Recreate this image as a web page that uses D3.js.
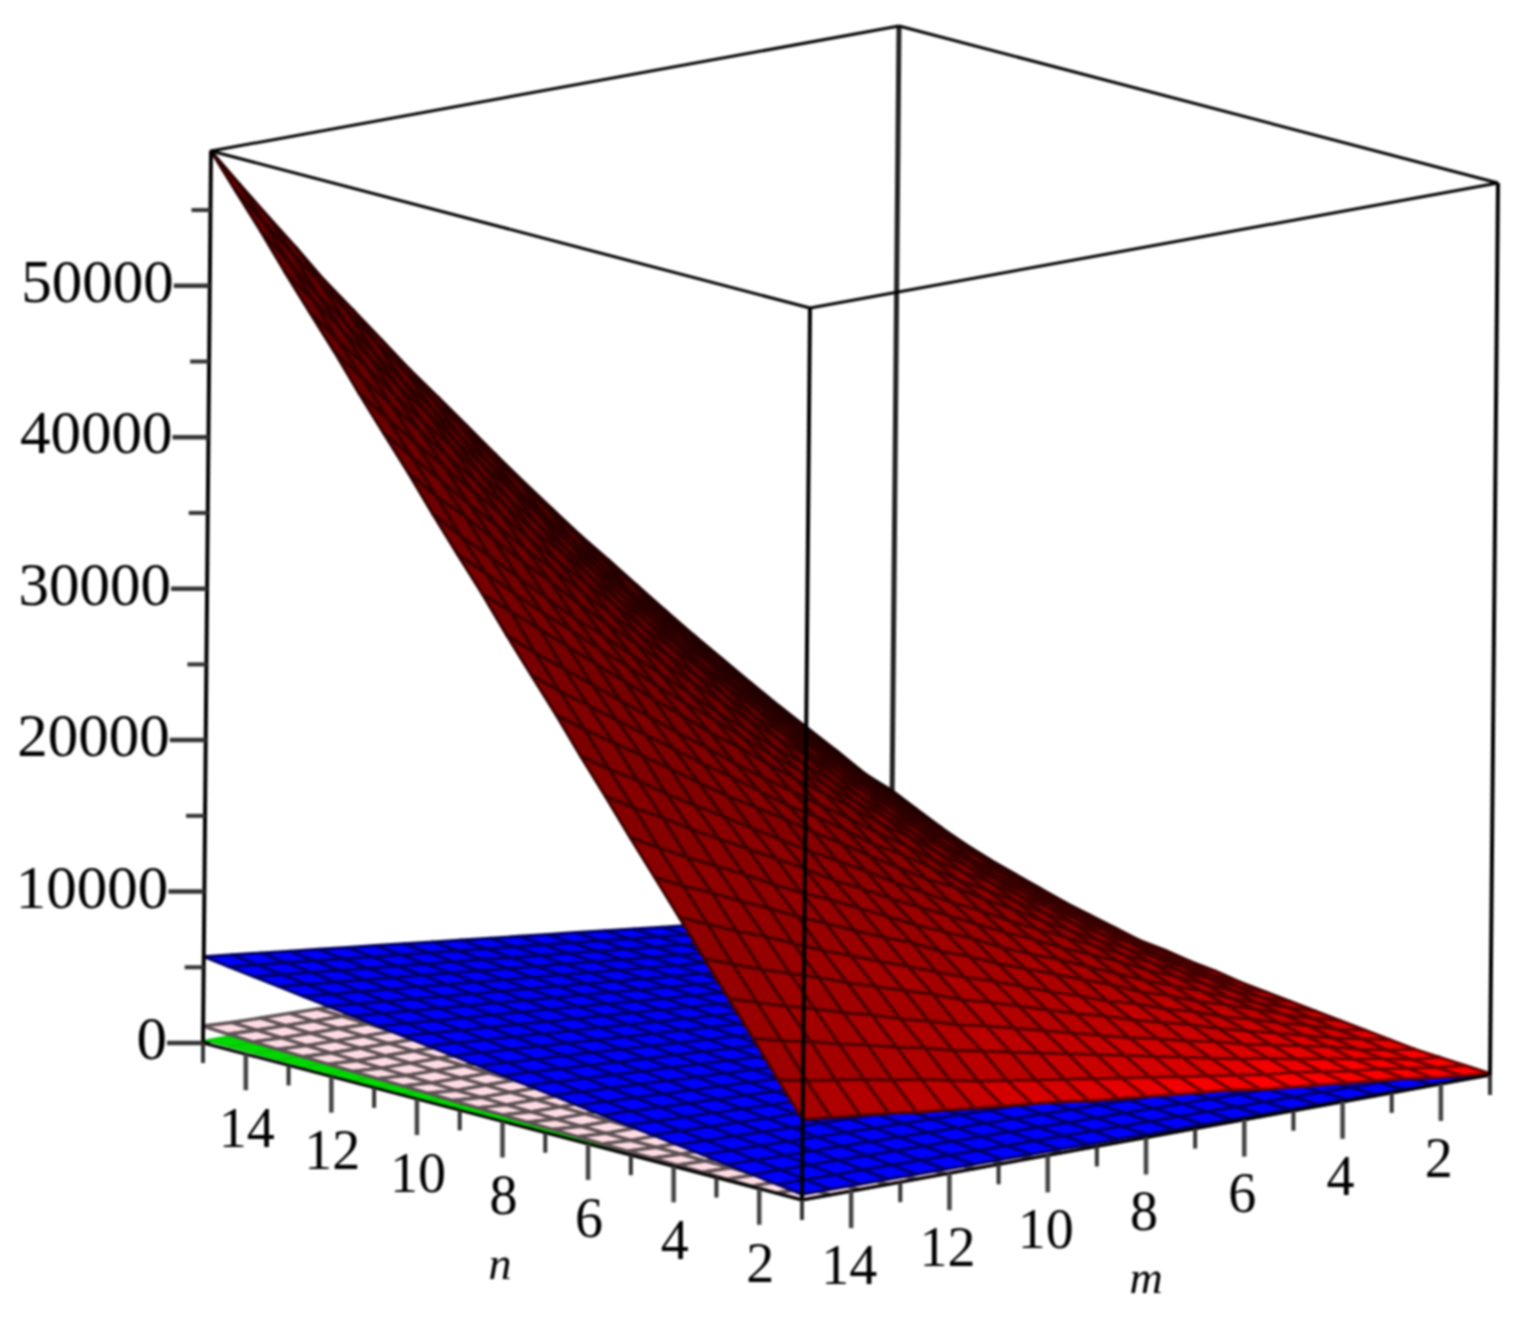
<!DOCTYPE html>
<html><head><meta charset="utf-8">
<style>html,body{margin:0;padding:0;background:#fff}svg{display:block;filter:blur(1.1px)}text{font-family:"Liberation Serif",serif;fill:#000}</style>
<script src="https://d3js.org/d3.v7.min.js"></script>
</head><body><svg id="c" width="1532" height="1323"></svg>
<script>
const gridM=[1,1.58,2.17,2.75,3.33,3.92,4.5,5.08,5.67,6.25,6.83,7.42,8,8.58,9.17,9.75,10.33,10.92,11.5,12.08,12.67,13.25,13.83,14.42,15];
const gridN=[1,1.58,2.17,2.75,3.33,3.92,4.5,5.08,5.67,6.25,6.83,7.42,8,8.58,9.17,9.75,10.33,10.92,11.5,12.08,12.67,13.25,13.83,14.42,15];
// rows by n, columns by m. Estimates.
const redHundreds=[
[1,3,5,8,10,12,14,16,18,21,23,25,27,29,31,34,36,38,40,42,44,47,49,51,53],
[2,4,7,10,12,15,18,20,23,26,29,32,35,38,41,44,47,50,54,58,61,65,68,71,75],
[3,5,9,12,16,19,23,26,30,34,38,42,46,50,54,58,62,66,71,75,80,84,89,93,98],
[4,7,11,16,20,24,28,33,37,42,46,51,56,61,66,71,75,81,86,92,97,103,108,114,120],
[6,10,14,19,24,29,34,40,45,50,56,61,67,73,79,84,91,97,103,109,116,122,128,135,142],
[8,12,18,23,29,34,41,46,53,58,65,71,78,85,91,98,105,112,119,126,134,142,149,157,165],
[10,15,21,28,34,40,47,53,61,68,75,82,89,97,104,113,120,128,136,144,153,161,170,178,187],
[12,18,24,31,39,46,53,61,69,77,84,92,101,109,117,126,135,144,152,161,171,180,189,199,209],
[14,20,28,36,44,52,61,69,77,86,94,103,112,121,130,140,149,160,170,180,190,200,211,221,232],
[16,23,32,40,49,58,67,76,85,94,104,113,123,133,144,154,164,175,186,197,208,219,231,242,254],
[18,26,35,45,54,63,73,83,94,104,115,124,135,146,158,169,181,192,203,215,228,240,252,264,277],
[21,29,39,50,59,70,80,91,102,112,124,136,146,159,171,182,195,208,220,233,246,259,272,285,299],
[23,33,43,54,65,76,87,99,110,121,134,146,159,171,184,196,209,223,236,250,264,278,292,306,321],
[26,36,47,59,70,82,94,106,118,132,144,158,171,184,198,212,225,240,254,269,284,299,314,329,344],
[28,39,51,63,76,88,101,114,127,141,154,168,182,196,211,226,240,255,271,286,302,317,333,350,366],
[32,43,56,69,82,94,108,122,136,150,164,179,193,208,223,239,255,271,287,302,319,336,353,370,388],
[36,48,62,75,89,103,116,131,146,160,176,191,206,222,238,254,271,287,304,322,339,357,375,392,411],
[40,53,67,81,95,110,125,140,155,170,187,202,219,235,252,269,286,304,322,339,358,376,395,414,433],
[45,58,72,88,103,118,133,149,165,181,198,215,232,249,266,284,302,320,338,358,377,396,415,435,455],
[50,64,79,95,110,125,142,158,175,192,209,226,244,262,280,299,318,336,356,375,395,416,436,457,478],
[55,70,85,101,118,134,151,167,185,202,221,238,257,275,295,313,333,353,373,394,414,435,457,478,500],
[61,76,92,109,125,142,159,178,196,214,232,251,270,289,309,330,350,370,390,412,433,455,477,500,522],
[68,83,99,117,134,151,169,187,206,225,244,263,283,303,323,344,365,386,408,429,451,474,496,521,545],
[76,91,109,126,145,162,181,200,219,238,259,278,299,319,341,361,383,405,427,449,473,496,519,543,567],
[84,99,118,136,154,173,192,211,231,251,271,291,312,333,355,377,399,421,444,467,490,515,539,564,589]];
const blueTens=[
[3,4,5,7,8,10,11,13,14,16,17,19,20,22,23,25,26,28,29,31,32,34,35,37,38],
[4,6,9,11,13,16,18,20,23,25,27,30,32,34,37,39,41,44,46,48,51,53,55,58,60],
[5,9,12,15,18,22,25,28,31,34,38,41,44,47,50,54,57,60,63,66,70,73,76,79,82],
[7,11,15,19,23,27,31,35,39,44,48,52,56,60,64,68,72,76,80,84,88,92,96,100,104],
[8,13,18,23,28,33,38,43,48,53,58,63,67,72,77,82,87,92,97,102,107,112,117,122,127],
[10,16,21,27,33,39,45,50,56,62,68,73,79,85,91,97,102,108,114,120,125,131,137,143,149],
[11,18,25,31,38,45,51,58,65,71,78,84,91,98,104,111,118,124,131,138,144,151,157,164,171],
[13,20,28,35,43,50,58,65,73,80,88,95,103,110,118,125,133,140,148,155,163,170,178,185,193],
[14,23,31,39,48,56,65,73,81,90,98,106,115,123,131,140,148,157,165,173,182,190,198,207,215],
[16,25,34,43,53,62,71,80,90,99,108,117,126,136,145,154,163,173,182,191,200,209,219,228,237],
[17,27,37,48,58,68,78,88,98,108,118,128,138,148,158,168,179,189,199,209,219,229,239,249,260],
[19,30,41,52,63,74,84,95,106,117,128,139,150,161,172,183,194,205,216,227,238,249,260,271,282],
[20,32,44,56,67,79,91,103,115,126,138,150,162,174,185,197,209,221,233,244,256,268,280,292,304],
[22,34,47,60,72,85,98,110,123,136,148,161,174,186,199,212,224,237,250,262,275,288,300,313,326],
[23,37,50,64,77,91,104,118,131,145,158,172,185,199,213,226,240,253,267,280,294,307,321,334,348],
[25,39,53,68,82,97,111,125,140,154,169,183,197,212,226,241,255,269,284,298,312,327,341,356,370],
[26,41,57,72,87,102,118,133,148,163,179,194,209,224,240,255,270,285,301,316,331,346,362,377,392],
[28,44,60,76,92,108,124,140,157,173,189,205,221,237,253,269,286,302,318,334,350,366,382,398,414],
[29,46,63,80,97,114,131,148,165,182,199,216,233,250,267,284,301,318,335,352,369,386,403,420,437],
[31,48,66,84,102,120,138,155,173,191,209,227,245,262,280,298,316,334,352,369,387,405,423,441,459],
[32,51,69,88,107,126,144,163,182,200,219,238,256,275,294,312,331,350,369,387,406,425,443,462,481],
[34,53,73,92,112,131,151,170,190,210,229,249,268,288,307,327,346,366,386,405,425,444,464,483,503],
[35,55,76,96,117,137,157,178,198,219,239,260,280,300,321,341,362,382,402,423,443,464,484,504,525],
[37,58,79,100,122,143,164,185,207,228,249,271,292,313,334,356,377,398,420,441,462,483,505,526,547],
[38,60,82,104,127,149,171,193,215,237,259,282,304,326,348,370,392,415,437,459,481,503,525,548,570]];
const pinkTens=[
[0,0,0,0,0,0,0,0,0,0,0,0,0,0,0,0,0,0,0,0,0,0,0,0,1],
[0,0,0,0,0,0,0,0,0,0,1,1,1,1,1,1,1,1,1,1,1,1,1,1,3],
[0,0,0,0,0,1,1,1,1,1,1,1,1,1,1,1,2,2,2,2,2,2,2,2,5],
[0,0,1,1,1,1,1,1,1,1,2,2,2,2,2,2,2,3,3,3,3,3,3,3,8],
[0,1,1,1,1,1,2,2,2,2,2,3,3,3,3,3,4,4,4,4,4,5,5,5,11],
[0,1,1,1,2,2,2,2,3,3,3,4,4,4,4,5,5,5,5,6,6,6,7,7,14],
[1,1,1,2,2,2,3,3,4,4,4,5,5,5,6,6,6,7,7,8,8,8,9,9,17],
[1,1,2,2,3,3,4,4,5,5,5,6,6,7,7,8,8,9,9,10,10,11,11,12,21],
[1,2,2,3,3,4,4,5,6,6,7,7,8,9,9,10,10,11,11,12,13,13,14,14,25],
[1,2,3,3,4,5,5,6,7,8,8,9,10,10,11,12,12,13,14,15,15,16,17,17,29],
[1,2,3,4,5,6,7,7,8,9,10,11,12,12,13,14,15,16,17,17,18,19,20,21,34],
[2,3,4,5,6,7,8,9,10,11,12,13,14,15,16,17,18,19,20,21,22,23,24,25,38],
[2,3,4,5,7,8,9,10,11,12,14,15,16,17,18,19,20,22,23,24,25,26,27,29,43],
[2,4,5,6,8,9,10,12,13,14,16,17,18,20,21,22,24,25,26,28,29,30,32,33,47],
[3,4,6,7,9,10,12,13,15,16,18,19,21,22,24,25,27,28,30,31,33,35,36,38,52],
[3,5,6,8,10,12,13,15,17,18,20,22,24,25,27,29,30,32,34,36,37,39,41,42,57],
[3,5,7,9,11,13,15,17,19,21,23,25,26,28,30,32,34,36,38,40,42,44,46,48,62],
[4,6,8,10,12,15,17,19,21,23,25,27,30,32,34,36,38,40,43,45,47,49,51,53,67],
[4,6,9,11,14,16,18,21,23,26,28,30,33,35,38,40,42,45,47,50,52,54,57,59,72],
[5,7,10,12,15,18,20,23,26,28,31,34,36,39,41,44,47,49,52,55,57,60,63,65,77],
[5,8,11,14,17,20,22,25,28,31,34,37,40,43,46,49,51,54,57,60,63,66,69,72,82],
[5,9,12,15,18,21,24,28,31,34,37,40,44,47,50,53,56,59,63,66,69,72,75,78,88],
[6,9,13,16,20,23,27,30,34,37,41,44,47,51,54,58,61,65,68,72,75,79,82,86,94],
[6,10,14,18,21,25,29,33,37,40,44,48,52,55,59,63,67,70,74,78,82,85,89,93,101],
[7,11,15,19,23,27,31,35,40,44,48,52,56,60,64,68,72,76,80,84,88,92,96,101,112]];
// Only the strip of the green surface that shows at the front edge.
const greenM=[14.42,15];
const greenNext=[0,0,1,1,1,1,2,2,3,3,4,5,5,6,7,8,9,10,11,12,13,15,16,17,19];
const greenFront=[0,0,0,1,1,1,1,2,2,3,3,4,5,6,6,7,8,9,10,11,12,14,15,16,18];
const zMajor=[0,10000,20000,30000,40000,50000];
const zMinor=[5000,15000,25000,35000,45000,55000];
const nMajor=[2,4,6,8,10,12,14];
const nMinor=[1,3,5,7,9,11,13,15];
const mMajor=[2,4,6,8,10,12,14];
const mMinor=[1,3,5,7,9,11,13,15];

const svg=d3.select("#c");
const ox=802,oy=1200;
const mx=d3.scaleLinear([15,1],[0,688]), my=d3.scaleLinear([15,1],[0,-125]);
const nx=d3.scaleLinear([1,15],[0,-599]), ny=d3.scaleLinear([1,15],[0,-157]);
const zx=d3.scaleLinear([0,58900],[0,8]), zy=d3.scaleLinear([0,58900],[0,-892]);
const P=(m,n,z)=>[ox+mx(m)+nx(n)+zx(z), oy+my(m)+ny(n)+zy(z)];
const line=d3.line();
const seg=(g,a,b,w,c)=>g.append("path").attr("d",line([a,b])).attr("stroke",c||"#000").attr("stroke-width",w).attr("fill","none");

const back=svg.append("g");
seg(back,P(15,15,0),P(1,15,0),2.5);
seg(back,P(1,15,0),P(1,1,0),2.5);
seg(back,P(1,15,0),P(1,15,58900),5,"#222");

function surface(ms,ns,table,unit,fill,stroke,sw){
  const cells=[];
  for(let j=ns.length-2;j>=0;j--)for(let k=0;k<ms.length-1;k++){
    const v=(a,b)=>table[a][b]*unit;
    cells.push({j,k,pts:[P(ms[k],ns[j],v(j,k)),P(ms[k+1],ns[j],v(j,k+1)),P(ms[k+1],ns[j+1],v(j+1,k+1)),P(ms[k],ns[j+1],v(j+1,k))],
      gm:(v(j,k+1)+v(j+1,k+1)-v(j,k)-v(j+1,k))/2/(ms[k+1]-ms[k])*14/58900,
      gn:(v(j+1,k)+v(j+1,k+1)-v(j,k)-v(j,k+1))/2/(ns[j+1]-ns[j])*14/58900});
  }
  svg.append("g").selectAll("path").data(cells).join("path")
    .attr("d",d=>line(d.pts)+"Z")
    .attr("fill",d=>fill(d)).attr("stroke",d=>stroke(d)).attr("stroke-width",sw).attr("stroke-linejoin","round");
}
const greenTable=d3.zip(greenNext,greenFront);
surface(greenM,gridN,greenTable,10,()=>"#00d800",()=>"#00a000",0.6);
surface(gridM,gridN,pinkTens,10,()=>"#ffdce4",()=>"#5e5255",3.4);
surface(gridM,gridN,blueTens,10,()=>"#0000ff",()=>"#000068",3);
const redI=d=>{
  const tm=(gridM[d.k]-1)/14, tn=(gridN[d.j]-1)/14;
  const I=340/(1+d.gn+1.5*d.gm)*(1-.65*(1-tm)*tn);
  return Math.min(255,I);
};
surface(gridM,gridN,redHundreds,100,d=>d3.rgb(redI(d),0,0).formatRgb(),d=>d3.rgb(redI(d)*.45,0,0).formatRgb(),3);

const front=svg.append("g");
// box
seg(front,P(15,15,58900),P(15,1,58900),3);
seg(front,P(15,1,58900),P(1,1,58900),3);
seg(front,P(1,1,58900),P(1,15,58900),3);
seg(front,P(1,15,58900),P(15,15,58900),3);
seg(front,P(15,15,0),P(15,15,58900),4);
seg(front,P(15,1,0),P(15,1,58900),4);
seg(front,P(1,1,0),P(1,1,58900),4);
seg(front,P(15,15,0),P(15,1,0),3);
seg(front,P(15,1,0),P(1,1,0),3);

// z axis
zMajor.forEach(z=>{const p=P(15,15,z);seg(front,[p[0]-36,p[1]],p,4.5,"#333");
  front.append("text").attr("x",p[0]-36).attr("y",p[1]+2).attr("text-anchor","end").attr("dominant-baseline","middle").attr("font-size",61).text(z);});
zMinor.forEach(z=>{const p=P(15,15,z);seg(front,[p[0]-19,p[1]],p,4,"#333");});
// n axis
nMajor.forEach(n=>{const p=P(15,n,0);seg(front,p,[p[0],p[1]+36],4.5,"#444");
  front.append("text").attr("x",p[0]+1).attr("y",p[1]+80).attr("text-anchor","middle").attr("dominant-baseline","middle").attr("font-size",56).text(n);});
nMinor.forEach(n=>{const p=P(15,n,0);seg(front,p,[p[0],p[1]+20],4,"#333");});
// m axis
mMajor.forEach(m=>{const p=P(m,1,0);seg(front,p,[p[0],p[1]+37],4.5,"#444");
  front.append("text").attr("x",p[0]-2).attr("y",p[1]+80).attr("text-anchor","middle").attr("dominant-baseline","middle").attr("font-size",56).text(m);});
mMinor.forEach(m=>{const p=P(m,1,0);seg(front,p,[p[0],p[1]+20],4,"#333");});
front.append("text").attr("x",500).attr("y",1268).attr("text-anchor","middle").attr("dominant-baseline","middle").attr("font-size",46).attr("font-style","italic").text("n");
front.append("text").attr("x",1146).attr("y",1282).attr("text-anchor","middle").attr("dominant-baseline","middle").attr("font-size",46).attr("font-style","italic").text("m");
</script></body></html>
